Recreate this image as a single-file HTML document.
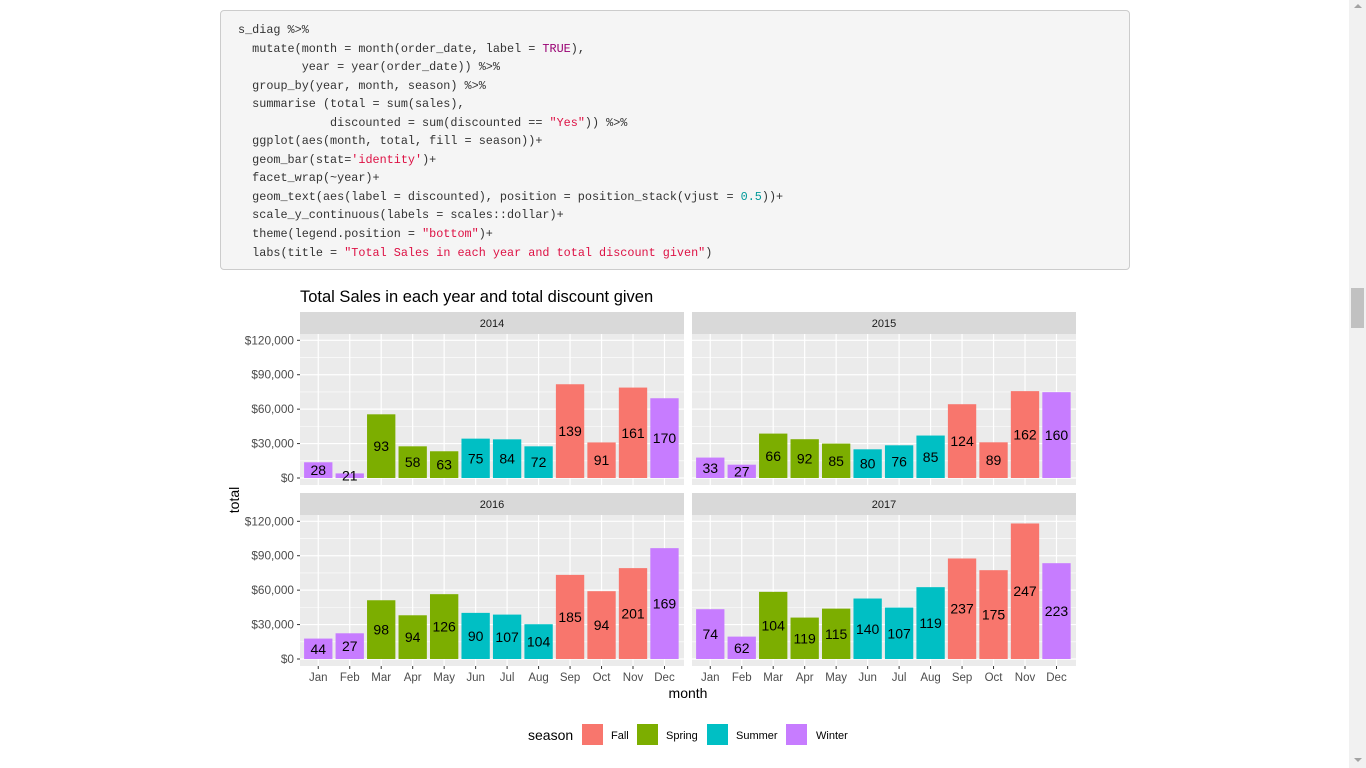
<!DOCTYPE html>
<html><head><meta charset="utf-8">
<style>
html,body{margin:0;padding:0;background:#fff;width:1366px;height:768px;overflow:hidden;font-family:"Liberation Sans",sans-serif}
#code{position:absolute;left:220px;top:10px;width:908px;height:258px;background:#f5f5f5;border:1px solid #ccc;border-radius:4px}
#code pre{margin:0;position:absolute;left:17px;top:10px;font-family:"Liberation Mono",monospace;font-size:11.8px;line-height:18.55px;color:#333}
.s{color:#dd1144}.k{color:#990073}.n{color:#009999}
#sb{position:absolute;left:1349px;top:0;width:17px;height:768px;background:#f1f1f1}
#thumb{position:absolute;left:2px;top:288px;width:13px;height:40px;background:#c1c1c1}
svg{position:absolute;left:0;top:0}
</style></head><body>
<div id="code"><pre>s_diag %&gt;%
  mutate(month = month(order_date, label = <span class="k">TRUE</span>),
         year = year(order_date)) %&gt;%
  group_by(year, month, season) %&gt;%
  summarise (total = sum(sales),
             discounted = sum(discounted == <span class="s">"Yes"</span>)) %&gt;%
  ggplot(aes(month, total, fill = season))+
  geom_bar(stat=<span class="s">'identity'</span>)+
  facet_wrap(~year)+
  geom_text(aes(label = discounted), position = position_stack(vjust = <span class="n">0.5</span>))+
  scale_y_continuous(labels = scales::dollar)+
  theme(legend.position = <span class="s">"bottom"</span>)+
  labs(title = <span class="s">"Total Sales in each year and total discount given"</span>)</pre></div>
<div id="sb"><div id="thumb"></div>
<div style="position:absolute;left:5px;top:4px;border:4px solid transparent;border-bottom-color:#a3a3a3;border-top:0"></div>
<div style="position:absolute;left:5px;top:758px;border:4px solid transparent;border-top-color:#a3a3a3;border-bottom:0"></div></div>
<svg id="chart" width="1366" height="768"></svg>
<script>
const months=["Jan","Feb","Mar","Apr","May","Jun","Jul","Aug","Sep","Oct","Nov","Dec"];
const seasons=["Winter","Winter","Spring","Spring","Spring","Summer","Summer","Summer","Fall","Fall","Fall","Winter"];
const years=["2014","2015","2016","2017"];
const total2014=[13700,4000,55500,27600,23300,34300,33700,27600,81700,31000,78800,69500];
const total2015=[17800,11600,38700,33800,30000,25000,28500,37000,64300,31100,75700,74800];
const total2016=[17800,22400,51200,38100,56500,40200,38700,30300,73300,59100,79200,96600];
const total2017=[43400,19500,58500,36100,43900,52700,44800,62600,87600,77400,118100,83500];
const disc2014=[28,21,93,58,63,75,84,72,139,91,161,170];
const disc2015=[33,27,66,92,85,80,76,85,124,89,162,160];
const disc2016=[44,27,98,94,126,90,107,104,185,94,201,169];
const disc2017=[74,62,104,119,115,140,107,119,237,175,247,223];
const yTicks=[0,30000,60000,90000,120000];
const yTickLabels=["$0","$30,000","$60,000","$90,000","$120,000"];
const seasonNames=["Fall","Spring","Summer","Winter"];
const seasonColors={Fall:"#F8766D",Spring:"#7CAE00",Summer:"#00BFC4",Winter:"#C77CFF"};
const totals=[total2014,total2015,total2016,total2017];
const discs=[disc2014,disc2015,disc2016,disc2017];

const svg=document.getElementById('chart');
const NS="http://www.w3.org/2000/svg";
function mk(tag,attrs,parent){const e=document.createElementNS(NS,tag);for(const k in attrs)e.setAttribute(k,attrs[k]);(parent||svg).appendChild(e);return e;}
const PW=384, PX=[300,692], STRIP=[312,493], PTOP=[334,515], PH=151, ZERO=[478,659];
const pxPer=137.7/120000;
for(let p=0;p<4;p++){
  const col=p%2,row=Math.floor(p/2);
  const x0=PX[col], top=PTOP[row], zero=ZERO[row];
  const y=v=>zero-v*pxPer;
  const unit=PW/12.2;
  const xc=i=>x0+(0.58+i)*unit;
  const g=mk('g',{});
  
  
  const strip=mk('rect',{x:x0,y:STRIP[row],width:PW,height:22,fill:'#d9d9d9'},g);
  
  
  const st=mk('text',{x:x0+PW/2,y:STRIP[row]+15,'text-anchor':'middle','font-size':'11','fill':'#1a1a1a'},g);
  st.textContent=years[p];
  
  
  mk('rect',{x:x0,y:top,width:PW,height:PH,fill:'#ebebeb'},g);
  for(let i=0;i<yTicks.length-1;i++){
    const ym=y((yTicks[i]+yTicks[i+1])/2);
    mk('line',{x1:x0,x2:x0+PW,y1:ym,y2:ym,stroke:'#fff','stroke-width':0.6},g);
  }
  yTicks.forEach((t,i)=>{
    mk('line',{x1:x0,x2:x0+PW,y1:y(t),y2:y(t),stroke:'#fff','stroke-width':1.2},g);
    if(col===0){
      mk('line',{x1:x0-3,x2:x0,y1:y(t),y2:y(t),stroke:'#333','stroke-width':1},g);
      const tl=mk('text',{x:x0-6,y:y(t)+4,'text-anchor':'end','font-size':'11.8','fill':'#4d4d4d'},g);
      tl.textContent=yTickLabels[i];
      
      
    }
  });
  months.forEach((m,i)=>{
    mk('line',{x1:xc(i),x2:xc(i),y1:top,y2:top+PH,stroke:'#fff','stroke-width':1.2},g);
  });
  months.forEach((m,i)=>{
    const v=totals[p][i];
    const b=mk('rect',{x:xc(i)-0.45*unit,y:y(v),width:0.9*unit,height:v*pxPer,fill:seasonColors[seasons[i]]},g);
    
    
    const t=mk('text',{x:xc(i),y:y(v/2)+5,'text-anchor':'middle','font-size':'14','fill':'#000'},g);
    t.textContent=discs[p][i];
    
    
    if(row===1){
      mk('line',{x1:xc(i),x2:xc(i),y1:top+PH,y2:top+PH+3,stroke:'#333','stroke-width':1},g);
      const xl=mk('text',{x:xc(i),y:top+PH+15,'text-anchor':'middle','font-size':'11.5','fill':'#4d4d4d'},g);
      xl.textContent=m;
      
      
    }
  });
}
const title=mk('text',{x:300,y:302,'font-size':'16.5','fill':'#000'});
title.textContent="Total Sales in each year and total discount given";


const yt=mk('text',{x:0,y:0,'font-size':'14','fill':'#000','text-anchor':'middle',transform:'translate(239,500) rotate(-90)'});
yt.textContent="total";


const xt=mk('text',{x:688,y:698,'font-size':'14','fill':'#000','text-anchor':'middle'});
xt.textContent="month";


const lt=mk('text',{x:528,y:740,'font-size':'14','fill':'#000'});
lt.textContent="season";


const lx=[582,637,707,786], ltx=[611,666,736,816];
seasonNames.forEach((s,i)=>{
  const r=mk('rect',{x:lx[i],y:724,width:21,height:21,fill:seasonColors[s]});
  
  
  const t=mk('text',{x:ltx[i],y:739,'font-size':'11','fill':'#000'});
  t.textContent=s;
  
  
});
</script>
</body></html>
